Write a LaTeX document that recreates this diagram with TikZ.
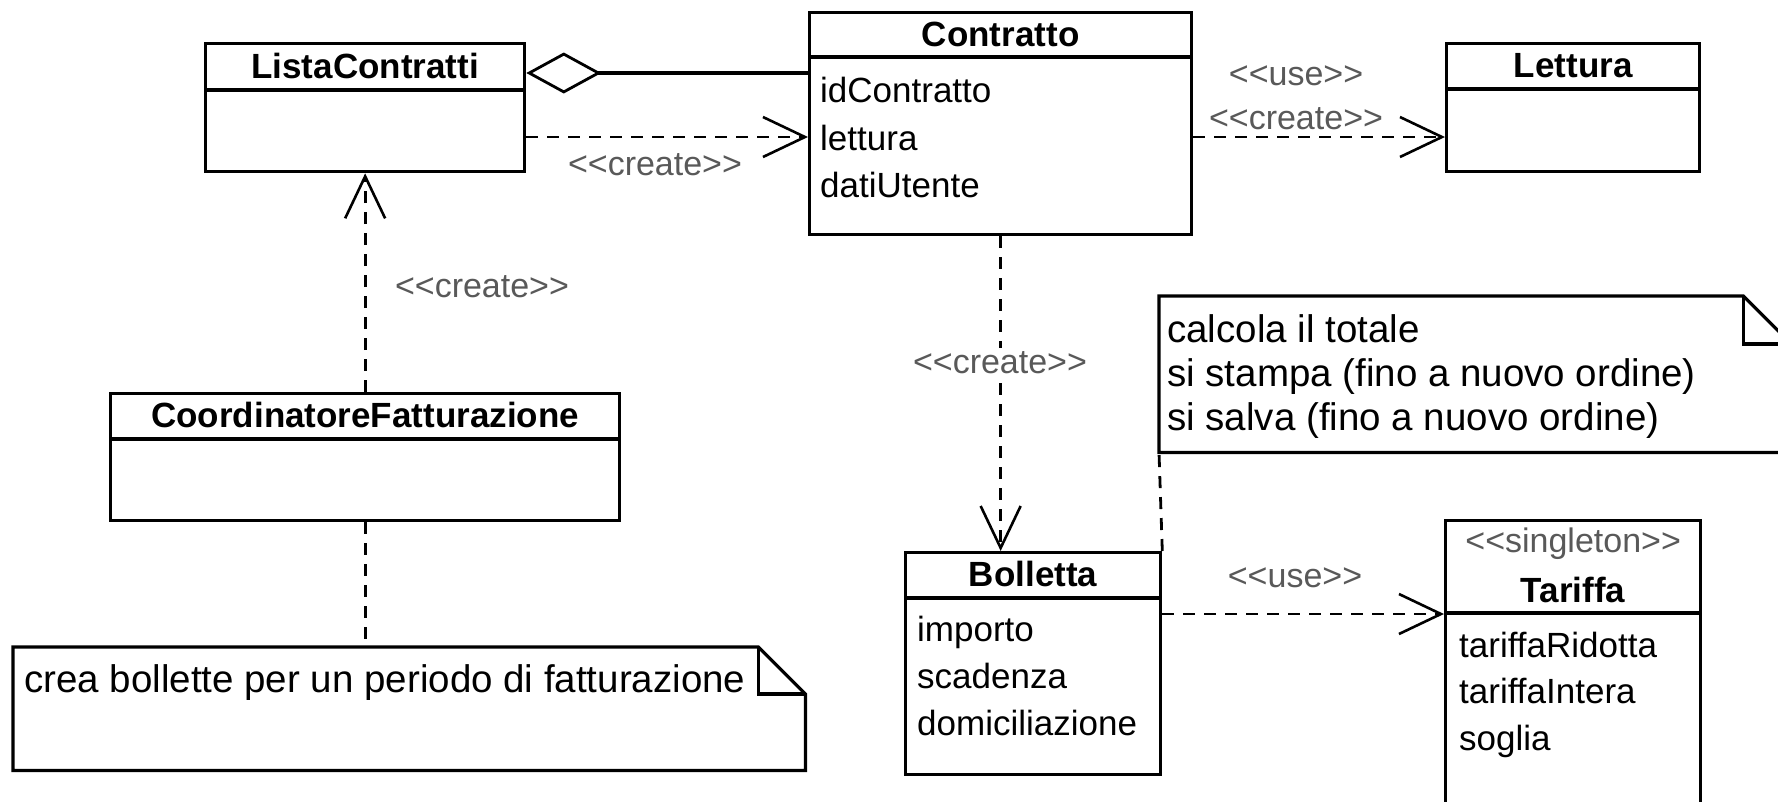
\documentclass[tikz,border=0pt]{standalone}
\usepackage{fontspec}
\setmainfont{Liberation Sans}
\usetikzlibrary{arrows.meta,calc}
\begin{document}
\begin{tikzpicture}[x=1pt,y=-1pt,
  box/.style={draw, line width=3.3pt, rectangle, inner sep=0pt, anchor=north west},
  area/.style={rectangle, inner sep=0pt, anchor=north west},
  sep/.style={line width=3.3pt},
  ttl/.style={font=\fontsize{35}{40}\selectfont\bfseries, anchor=base, inner sep=0pt},
  attr/.style={font=\fontsize{35}{40}\selectfont, anchor=base west, inner sep=0pt},
  stereo/.style={font=\fontsize{34}{40}\selectfont, text=black!65, inner sep=0pt},
  notetext/.style={font=\fontsize{38.5}{44}\selectfont, anchor=base west, inner sep=0pt},
  dep/.style={line width=2.8pt, dash pattern=on 12pt off 9pt},
  openarrow/.style={-{Straight Barb[length=42pt,width=40pt,line width=2.6pt]}},
  notepath/.style={line width=3.3pt, line join=miter}
]
\useasboundingbox (0,0) rectangle (1778,801);
\clip (0,0) rectangle (1778,801);

% ListaContratti
\node[box, minimum width=319pt, minimum height=128pt] (lista) at (204,42) {};
\draw[sep] ($(lista.north west)+(0,48)$) -- ($(lista.north east)+(0,48)$);
\node[ttl] (listaT) at ($(lista.north)+(0,36)$) {ListaContratti};

% Contratto
\node[box, minimum width=382pt, minimum height=222pt] (contratto) at (808,11) {};
\draw[sep] ($(contratto.north west)+(0,46)$) -- ($(contratto.north east)+(0,46)$);
\node[ttl] (contrattoT) at ($(contratto.north)+(0,35)$) {Contratto};
\node[attr] (cA1) at (820,102) {idContratto};
\node[attr] (cA2) at (820,150) {lettura};
\node[attr] (cA3) at (820,197) {datiUtente};

% Lettura
\node[box, minimum width=253pt, minimum height=128pt] (lettura) at (1445,42) {};
\draw[sep] ($(lettura.north west)+(0,47)$) -- ($(lettura.north east)+(0,47)$);
\node[ttl] (letturaT) at ($(lettura.north)+(0,35)$) {Lettura};

% CoordinatoreFatturazione
\node[box, minimum width=509pt, minimum height=127pt] (coord) at (109,392) {};
\draw[sep] ($(coord.north west)+(0,47)$) -- ($(coord.north east)+(0,47)$);
\node[ttl] (coordT) at ($(coord.north)+(0,35)$) {CoordinatoreFatturazione};

% Bolletta
\node[box, minimum width=255pt, minimum height=222pt] (bolletta) at (904,551) {};
\draw[sep] ($(bolletta.north west)+(0,47)$) -- ($(bolletta.north east)+(0,47)$);
\node[ttl] (bollettaT) at ($(bolletta.north)+(0,35)$) {Bolletta};
\node[attr] (bA1) at (917,641) {importo};
\node[attr] (bA2) at (917,688) {scadenza};
\node[attr] (bA3) at (917,735) {domiciliazione};

% Tariffa
\node[box, minimum width=255pt, minimum height=330pt] (tariffa) at (1444,519) {};
\draw[sep] ($(tariffa.north west)+(0,94)$) -- ($(tariffa.north east)+(0,94)$);
\node[stereo, anchor=base] (tariffaS) at ($(tariffa.north)+(0,33)$) {<{}<singleton>{}>};
\node[ttl] (tariffaT) at ($(tariffa.north)+(0,83)$) {Tariffa};
\node[attr] (tA1) at (1459,657) {tariffaRidotta};
\node[attr] (tA2) at (1459,703) {tariffaIntera};
\node[attr] (tA3) at (1459,750) {soglia};

% Note 1
\node[area, minimum width=792pt, minimum height=123pt] (note1) at (13,647) {};
\draw[notepath] (note1.north west) -- ($(note1.north east)+(-47,0)$) -- ($(note1.north east)+(0,47)$) -- (note1.south east) -- (note1.south west) -- cycle;
\draw[notepath] ($(note1.north east)+(-47,0)$) -- ($(note1.north east)+(-47,47)$) -- ($(note1.north east)+(0,47)$);
\node[notetext] (note1T) at (24,692) {crea bollette per un periodo di fatturazione};

% Note 2
\node[area, minimum width=632pt, minimum height=156pt] (note2) at (1159,296) {};
\draw[notepath] (note2.north west) -- ($(note2.north east)+(-48,0)$) -- ($(note2.north east)+(0,48)$) -- (note2.south east) -- (note2.south west) -- cycle;
\draw[notepath] ($(note2.north east)+(-48,0)$) -- ($(note2.north east)+(-48,48)$) -- ($(note2.north east)+(0,48)$);
\node[notetext] (note2T1) at (1167,342) {calcola il totale};
\node[notetext] (note2T2) at (1167,386) {si stampa (fino a nuovo ordine)};
\node[notetext] (note2T3) at (1167,430) {si salva (fino a nuovo ordine)};

% Connectors
\draw[line width=3.3pt, {Diamond[open,length=75pt,width=41pt,line width=2.8pt]}-] (lista.east |- 0,73) -- (contratto.west |- 0,73);
\draw[dep, openarrow] (lista.east |- 0,137) -- (contratto.west |- 0,137);
\draw[dep, openarrow] (contratto.east |- 0,137) -- (lettura.west |- 0,137);
\draw[dep, openarrow] (contratto.south) -- (contratto.south |- bolletta.north);
\draw[dep, openarrow] (coord.north) -- (lista.south);
\draw[dep] (coord.south) -- (coord.south |- note1.north);
\draw[dep] (bolletta.north east) -- (note2.south west);
\draw[dep, openarrow] (bolletta.east |- 0,614) -- (tariffa.west |- 0,614);

% Labels
\node[stereo] (l1) at (655,165) {<{}<create>{}>};
\node[stereo] (l2) at (482,287) {<{}<create>{}>};
\node[stereo] (l3) at (1296,76) {<{}<use>{}>};
\node[stereo] (l4) at (1296,119) {<{}<create>{}>};
\node[stereo, fill=white, inner sep=4pt] (l5) at (1000,363) {<{}<create>{}>};
\node[stereo] (l6) at (1295,578) {<{}<use>{}>};
\end{tikzpicture}
\end{document}
